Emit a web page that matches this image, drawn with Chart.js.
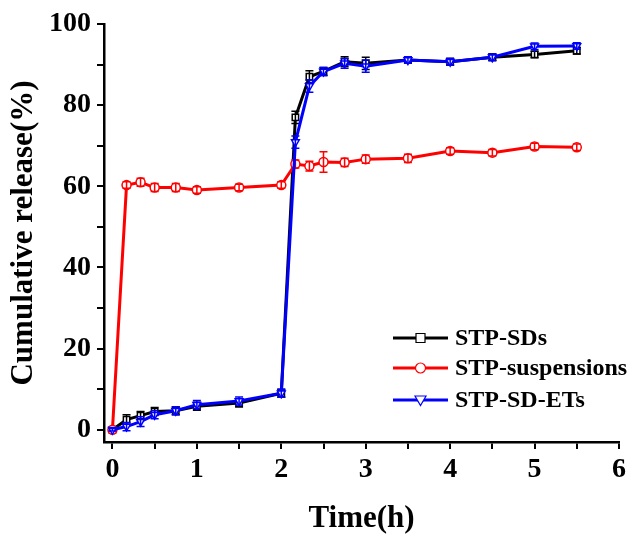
<!DOCTYPE html>
<html><head><meta charset="utf-8">
<script src="https://cdn.jsdelivr.net/npm/chart.js@4/dist/chart.umd.min.js"></script>
<style>html,body{margin:0;padding:0;background:#fff;}#wrap{width:633px;height:534px;}</style>
</head><body><div id="wrap"><canvas id="c" width="633" height="534"></canvas></div>
<script>
const times = [0, 0.167, 0.333, 0.5, 0.75, 1, 1.5, 2, 2.167, 2.333, 2.5, 2.75, 3, 3.5, 4, 4.5, 5, 5.5];
const sdsValues = [0, 2.5, 3.5, 4.5, 4.7, 5.8, 6.6, 9.0, 77, 87, 88.3, 90.7, 90.3, 91.1, 90.7, 91.8, 92.5, 93.4];
const suspValues = [0, 60.3, 61, 59.7, 59.7, 59.1, 59.7, 60.3, 65.5, 65, 66, 65.9, 66.7, 66.9, 68.7, 68.3, 69.8, 69.6];
const etsValues = [0, 0.8, 2, 3.7, 4.7, 6.2, 7.1, 9.0, 70.9, 84.7, 88.3, 90.3, 89.6, 91.1, 90.7, 91.8, 94.5, 94.6];
const sdsErr = [0.3, 1.2, 1, 1, 1, 1, 1, 1, 1.5, 1.5, 1, 1.2, 1.5, 0.8, 0.8, 0.8, 0.8, 0.8];
const suspErr = [0.3, 0.8, 1, 1, 1, 0.8, 0.8, 0.8, 1, 1.2, 2.5, 1, 1, 1, 0.8, 0.8, 0.8, 0.8];
const etsErr = [0.3, 1, 1.2, 1, 1, 1, 1, 1, 1.5, 1.5, 1, 1.2, 1.5, 0.8, 0.8, 0.8, 0.8, 0.8];
const seriesLabels = ['STP-SDs', 'STP-suspensions', 'STP-SD-ETs'];
const xTicks = [0, 0.5, 1, 1.5, 2, 2.5, 3, 3.5, 4, 4.5, 5, 5.5, 6];
const xLabelTicks = [0, 1, 2, 3, 4, 5, 6];
const yTicks = [0, 10, 20, 30, 40, 50, 60, 70, 80, 90, 100];
const yLabelTicks = [0, 20, 40, 60, 80, 100];

const FONT = '"Liberation Serif", "Times New Roman", serif';
const pts = (vals) => times.map((t, i) => ({x: t, y: vals[i]}));

const errorBars = {
  id: 'errorBars',
  afterDatasetDraw(chart, args) {
    const ds = chart.data.datasets[args.index];
    const errs = ds.errors;
    if (!errs) return;
    const ctx = chart.ctx, ys = chart.scales.y;
    ctx.save();
    ctx.strokeStyle = ds.borderColor;
    ctx.lineWidth = 1.5;
    args.meta.data.forEach((p, i) => {
      const v = ds.data[i].y, e = errs[i];
      const y1 = ys.getPixelForValue(v + e), y2 = ys.getPixelForValue(v - e);
      ctx.beginPath();
      ctx.moveTo(p.x, y1); ctx.lineTo(p.x, y2);
      ctx.moveTo(p.x - 4, y1); ctx.lineTo(p.x + 4, y1);
      ctx.moveTo(p.x - 4, y2); ctx.lineTo(p.x + 4, y2);
      ctx.stroke();
    });
    ctx.restore();
  }
};

const customLegend = {
  id: 'customLegend',
  afterDraw(chart) {
    const ctx = chart.ctx;
    const x0 = 393, x1 = 448, tx = 455;
    const rows = [338, 368, 400];
    ctx.save();
    chart.data.datasets.forEach((ds, i) => {
      const y = rows[i];
      ctx.strokeStyle = ds.borderColor;
      ctx.lineWidth = 3;
      ctx.beginPath(); ctx.moveTo(x0, y); ctx.lineTo(x1, y); ctx.stroke();
      ctx.fillStyle = '#fff';
      ctx.lineWidth = 1.2;
      ctx.beginPath();
      const cx = (x0 + x1) / 2;
      if (ds.pointStyle === 'rect') { ctx.rect(cx - 4.5, y - 4.5, 9, 9); }
      else if (ds.pointStyle === 'circle') { ctx.arc(cx, y, 5, 0, Math.PI * 2); }
      else { ctx.moveTo(cx - 5.5, y - 4); ctx.lineTo(cx + 5.5, y - 4); ctx.lineTo(cx, y + 5.5); ctx.closePath(); }
      ctx.fill(); ctx.stroke();
      ctx.fillStyle = '#000';
      ctx.font = 'bold 24px ' + FONT;
      ctx.textBaseline = 'middle';
      ctx.textAlign = 'left';
      ctx.fillText(ds.label, tx, y + 1);
    });
    ctx.restore();
  }
};

const mkDs = (label, vals, errs, color, style, rot, order) => ({
  label, data: pts(vals), errors: errs,
  borderColor: color, backgroundColor: '#fff',
  borderWidth: 3, pointStyle: style, pointRotation: rot,
  pointRadius: 4.5, pointBorderWidth: 1.5, pointBackgroundColor: '#fff', pointBorderColor: color,
  tension: 0, clip: false, order
});

new Chart(document.getElementById('c'), {
  type: 'line',
  data: {
    datasets: [
      mkDs(seriesLabels[0], sdsValues, sdsErr, '#000000', 'rect', 0, 2),
      mkDs(seriesLabels[1], suspValues, suspErr, '#ff0000', 'circle', 0, 1),
      mkDs(seriesLabels[2], etsValues, etsErr, '#0000ff', 'triangle', 180, 0)
    ]
  },
  options: {
    responsive: false, animation: false,
    layout: {padding: {top: 24, right: 14, left: 0, bottom: 0}},
    plugins: {legend: {display: false}, tooltip: {enabled: false}},
    scales: {
      x: {
        type: 'linear', min: -0.1, max: 6,
        afterBuildTicks: (s) => { s.ticks = xTicks.map(v => ({value: v})); },
        afterFit: (s) => { s.height = 92; },
        ticks: {
          autoSkip: false, maxRotation: 0, padding: 4, color: '#000',
          font: {family: FONT, size: 28, weight: 'bold'},
          callback: (v) => xLabelTicks.includes(v) ? String(v) : ''
        },
        grid: {drawOnChartArea: false, drawTicks: true, tickLength: 7, color: '#000', lineWidth: 2},
        border: {display: true, color: '#000', width: 2.5},
        title: {display: true, text: 'Time(h)', color: '#000', padding: 0,
          font: {family: FONT, size: 31, weight: 'bold', lineHeight: 1.0}}
      },
      y: {
        type: 'linear', min: -3, max: 100,
        afterBuildTicks: (s) => { s.ticks = yTicks.map(v => ({value: v})); },
        afterFit: (s) => { s.width = 104; },
        ticks: {
          autoSkip: false, padding: 6, color: '#000',
          font: {family: FONT, size: 28, weight: 'bold'},
          callback: (v) => yLabelTicks.includes(v) ? String(v) : ''
        },
        grid: {drawOnChartArea: false, drawTicks: true, tickLength: 7, color: '#000', lineWidth: 2},
        border: {display: true, color: '#000', width: 2.5},
        title: {display: true, text: 'Cumulative release(%)', color: '#000', padding: {top: 5, bottom: 0},
          font: {family: FONT, size: 31, weight: 'bold', lineHeight: 1.2}}
      }
    }
  },
  plugins: [errorBars, customLegend]
});
</script></body></html>
